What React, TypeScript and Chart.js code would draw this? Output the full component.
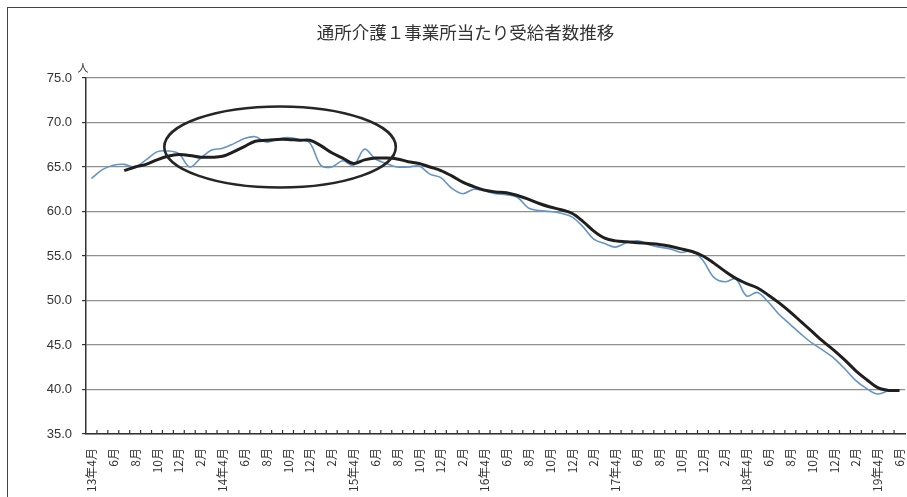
import React, { useEffect, useRef } from "react";
import { Chart, registerables } from "chart.js";

Chart.register(...registerables);

const TITLE = "通所介護１事業所当たり受給者数推移";
const UNIT = "人";

// 2013年4月 .. 2019年6月 (monthly), labels every 2 months
const tickLabels = [
  "13年4月", "", "6月", "", "8月", "", "10月", "", "12月", "", "2月", "",
  "14年4月", "", "6月", "", "8月", "", "10月", "", "12月", "", "2月", "",
  "15年4月", "", "6月", "", "8月", "", "10月", "", "12月", "", "2月", "",
  "16年4月", "", "6月", "", "8月", "", "10月", "", "12月", "", "2月", "",
  "17年4月", "", "6月", "", "8月", "", "10月", "", "12月", "", "2月", "",
  "18年4月", "", "6月", "", "8月", "", "10月", "", "12月", "", "2月", "",
  "19年4月", "", "6月",
];

// monthly value (thin blue line)
const monthly = [
  63.7, 64.7, 65.2, 65.3, 65.0, 65.8, 66.7, 66.8, 66.5, 65.0, 66.0, 66.9,
  67.1, 67.6, 68.2, 68.4, 67.8, 68.1, 68.3, 68.1, 67.7, 65.2, 65.0, 65.7,
  65.2, 67.0, 65.9, 65.4, 65.0, 65.0, 65.1, 64.2, 63.8, 62.6, 62.0, 62.5,
  62.3, 62.0, 61.9, 61.6, 60.4, 60.1, 60.0, 59.8, 59.4, 58.3, 56.9, 56.4,
  56.0, 56.5, 56.7, 56.3, 56.0, 55.8, 55.4, 55.6, 54.5, 52.6, 52.1, 52.4,
  50.5, 50.9, 49.8, 48.4, 47.3, 46.2, 45.2, 44.4, 43.5, 42.3, 41.0, 40.1,
  39.5, 39.9, null,
];

// trend (thick black line)
const trend = [
  null, null, null, 64.6, 65.0, 65.3, 65.8, 66.2, 66.4, 66.3, 66.1, 66.1,
  66.2, 66.7, 67.3, 67.9, 68.0, 68.1, 68.1, 68.0, 68.0, 67.4, 66.6, 66.0,
  65.4, 65.8, 66.0, 66.0, 65.9, 65.6, 65.4, 65.0, 64.6, 64.0, 63.3, 62.8,
  62.4, 62.2, 62.1, 61.8, 61.4, 60.9, 60.5, 60.2, 59.8, 58.9, 57.8, 57.0,
  56.7, 56.6, 56.5, 56.4, 56.3, 56.1, 55.8, 55.5, 55.0, 54.2, 53.3, 52.5,
  51.9, 51.4, 50.6, 49.7, 48.7, 47.6, 46.5, 45.4, 44.4, 43.3, 42.1, 41.1,
  40.2, 39.9, 39.9,
];

const yMin = 35;
const yMax = 75;
const yStep = 5;

// hand-drawn ellipse annotation, in data units (month index / value)
const noteCenterIndex = 17.27;
const noteCenterValue = 67.25;
const noteHalfMonths = 10.6;
const noteHalfValue = 4.55;

const overlayPlugin = {
  id: "overlay",
  beforeDraw(chart: any) {
    const { ctx } = chart;
    ctx.save();
    ctx.fillStyle = "#333";
    ctx.font = "17.5px 'Noto Sans CJK JP'";
    ctx.textAlign = "center";
    ctx.textBaseline = "middle";
    ctx.fillText(TITLE, chart.width / 2 + 12, 32);
    ctx.restore();
  },
  afterDatasetsDraw(chart: any) {
    const { ctx, chartArea, scales } = chart;
    const x = scales.x;
    const y = scales.y;
    const px = (v: number) => {
      const a = Math.floor(v);
      const f = v - a;
      return x.getPixelForValue(a) * (1 - f) + x.getPixelForValue(a + 1) * f;
    };
    ctx.save();
    // inward tick marks at category boundaries
    ctx.beginPath();
    ctx.strokeStyle = "#333";
    ctx.lineWidth = 1.2;
    for (let i = 1; i < tickLabels.length; i++) {
      const bx = (x.getPixelForValue(i - 1) + x.getPixelForValue(i)) / 2;
      ctx.moveTo(bx, chartArea.bottom);
      ctx.lineTo(bx, chartArea.bottom - 4);
    }
    ctx.stroke();
    // ellipse
    const cx = px(noteCenterIndex);
    const rx = px(noteCenterIndex + noteHalfMonths) - cx;
    const cy = y.getPixelForValue(noteCenterValue);
    const ry = y.getPixelForValue(noteCenterValue - noteHalfValue) - cy;
    ctx.beginPath();
    ctx.ellipse(cx, cy, rx, ry, 0, 0, Math.PI * 2);
    ctx.lineWidth = 2.6;
    ctx.strokeStyle = "#262626";
    ctx.stroke();
    // unit
    ctx.fillStyle = "#333";
    ctx.font = "11px 'Noto Sans CJK JP'";
    ctx.textAlign = "center";
    ctx.textBaseline = "bottom";
    ctx.fillText(UNIT, chartArea.left - 3, chartArea.top - 5);
    ctx.restore();
  },
};

export default function App() {
  const ref = useRef<HTMLCanvasElement | null>(null);

  useEffect(() => {
    if (!ref.current) return;
    const chart = new Chart(ref.current, {
      type: "line",
      data: {
        labels: tickLabels,
        datasets: [
          {
            label: "trend",
            data: trend,
            borderColor: "#1f1f1f",
            borderWidth: 3,
            pointRadius: 0,
            tension: 0.35,
            fill: false,
          },
          {
            label: "monthly",
            data: monthly,
            borderColor: "#6494c8",
            borderWidth: 1.6,
            pointRadius: 0,
            tension: 0.35,
            fill: false,
          },
        ],
      },
      options: {
        animation: false,
        responsive: true,
        maintainAspectRatio: false,
        layout: { padding: { left: 0, right: 2, top: 78, bottom: 0 } },
        plugins: {
          legend: { display: false },
          tooltip: { enabled: false },
          title: { display: false },
        },
        scales: {
          x: {
            type: "category",
            offset: true,
            grid: { display: false },
            border: { display: true, color: "#333", width: 1.5 },
            ticks: {
              autoSkip: false,
              maxRotation: 90,
              minRotation: 90,
              padding: 6,
              color: "#333",
              font: { family: "'Noto Sans CJK JP'", size: 12 },
            },
            afterFit(scale: any) {
              scale.height = 63;
              scale.paddingLeft = 0;
              scale.paddingRight = 0;
            },
          },
          y: {
            min: yMin,
            max: yMax,
            grid: { color: "#8c918a", lineWidth: 1.2, tickLength: 4, tickColor: "#333" },
            border: { display: true, color: "#333", width: 1.5 },
            ticks: {
              stepSize: yStep,
              padding: 10,
              color: "#333",
              font: { family: "'Liberation Sans'", size: 13 },
              callback: (v: any) => Number(v).toFixed(1),
            },
            afterFit(scale: any) {
              scale.width = 86;
            },
          },
        },
      },
      plugins: [overlayPlugin],
    });
    return () => chart.destroy();
  }, []);

  return (
    <>
      <div
        style={{
          position: "fixed",
          left: 7,
          top: 7,
          width: 920,
          height: 520,
          borderTop: "1.5px solid #444",
          borderLeft: "1.5px solid #444",
          background: "#fff",
        }}
      />
      <div style={{ position: "fixed", left: 0, top: 0, width: 907, height: 497 }}>
        <canvas ref={ref} />
      </div>
    </>
  );
}
